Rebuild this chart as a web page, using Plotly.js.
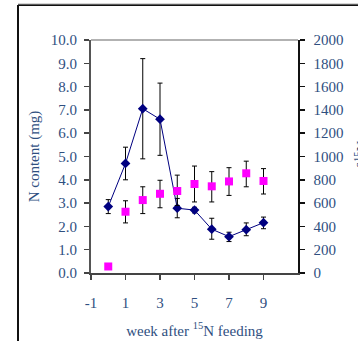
<!DOCTYPE html>
<html>
<head>
<meta charset="utf-8">
<script src="https://cdn.plot.ly/plotly-3.0.1.min.js"></script>
<style>html,body{margin:0;padding:0;background:#fff;}#chart{width:358px;height:341px;overflow:hidden;}</style>
</head>
<body>
<div id="chart"></div>
<script>
// week after 15N feeding
const weeks = [0, 1, 2, 3, 4, 5, 6, 7, 8, 9];
// N content (mg), left axis
const nContent = [2.85, 4.7, 7.05, 6.6, 2.78, 2.7, 1.88, 1.56, 1.86, 2.16];
const nUpper   = [3.15, 5.4, 9.2, 8.15, 3.2, 2.82, 2.35, 1.75, 2.15, 2.4];
const nLower   = [2.55, 4.0, 4.9, 5.05, 2.37, 2.58, 1.45, 1.35, 1.6, 1.9];
// delta 15N (per mil), right axis
const d15N      = [56, 526, 626, 680, 704, 764, 744, 786, 856, 790];
const d15NUpper = [56, 620, 740, 796, 840, 918, 870, 904, 960, 896];
const d15NLower = [56, 430, 510, 560, 580, 610, 610, 666, 740, 678];
// tick labels
const xTicks = [-1, 1, 3, 5, 7, 9];

const FONT = 'Liberation Serif, Times New Roman, serif';
const TXT = '#2f4f7f';
const FS = 15;

const sq = {
  x: weeks, y: d15N, yaxis: 'y2', type: 'scatter', mode: 'markers',
  marker: {symbol: 'square', size: 8, color: '#ff00ff'},
  error_y: {type: 'data', symmetric: false,
    array: d15N.map((v, i) => d15NUpper[i] - v),
    arrayminus: d15N.map((v, i) => v - d15NLower[i]),
    color: '#000', thickness: 1, width: 2.5},
  showlegend: false, hoverinfo: 'skip'
};
const dia = {
  x: weeks, y: nContent, type: 'scatter', mode: 'lines+markers',
  line: {color: '#000080', width: 1},
  marker: {symbol: 'diamond', size: 7.5, color: '#000080'},
  error_y: {type: 'data', symmetric: false,
    array: nContent.map((v, i) => nUpper[i] - v),
    arrayminus: nContent.map((v, i) => v - nLower[i]),
    color: '#000', thickness: 1, width: 2.5},
  showlegend: false, hoverinfo: 'skip'
};

// paper coordinate helpers for the outer frame
const L = 91, R = 298, T = 40, B = 273;
const px = v => (v - L) / (R - L);
const py = v => (B - v) / (B - T);

const layout = {
  width: 358, height: 341,
  margin: {l: L, r: 358 - R, t: T, b: 341 - B, pad: 0},
  paper_bgcolor: '#fff', plot_bgcolor: '#fff',
  font: {family: FONT, size: FS, color: TXT},
  xaxis: {
    range: [-1, 11], tickvals: xTicks, ticktext: xTicks.map(String),
    ticks: 'outside', ticklen: 5, tickwidth: 1.5, tickcolor: '#444',
    showline: true, linecolor: '#444', linewidth: 2,
    showgrid: false, zeroline: false, ticklabelstandoff: 10,
    tickfont: {family: FONT, size: FS, color: TXT},
    title: {text: 'week after <sup>15</sup>N feeding', standoff: 15,
      font: {family: FONT, size: FS, color: TXT}}
  },
  yaxis: {
    range: [0, 10], dtick: 1, tickformat: '.1f',
    ticks: 'outside', ticklen: 5, tickwidth: 1.5, tickcolor: '#444',
    showline: true, linecolor: '#555', linewidth: 2,
    showgrid: false, zeroline: false, ticklabelstandoff: 4,
    tickfont: {family: FONT, size: FS, color: TXT},
    title: {text: 'N content (mg)', standoff: 8,
      font: {family: FONT, size: FS, color: TXT}}
  },
  yaxis2: {
    overlaying: 'y', side: 'right', range: [0, 2000], dtick: 200,
    ticks: 'outside', ticklen: 5, tickwidth: 1.5, tickcolor: '#111',
    showline: true, linecolor: '#111', linewidth: 1.5,
    showgrid: false, zeroline: false, ticklabelstandoff: 6,
    tickfont: {family: FONT, size: FS, color: TXT}
  },
  annotations: [
    {text: 'δ<sup>15</sup>N', xref: 'paper', yref: 'paper',
      x: px(350), y: py(155), xanchor: 'left', yanchor: 'middle',
      textangle: -90, showarrow: false,
      font: {family: FONT, size: FS, color: TXT}}
  ],
  shapes: [
    {type: 'line', xref: 'paper', yref: 'paper', x0: 0, x1: 1, y0: 1, y1: 1,
      line: {color: '#999', width: 1.5}},
    {type: 'line', xref: 'paper', yref: 'paper', x0: px(18), x1: px(18), y0: py(5), y1: py(345),
      line: {color: '#111', width: 2}},
    {type: 'line', xref: 'paper', yref: 'paper', x0: px(18), x1: px(360), y0: py(5), y1: py(5),
      line: {color: '#111', width: 2}},
    {type: 'line', xref: 'paper', yref: 'paper', x0: px(18), x1: px(360), y0: py(4), y1: py(4),
      line: {color: '#aaa', width: 1}}
  ]
};

Plotly.newPlot('chart', [sq, dia], layout, {displayModeBar: false, staticPlot: true});
</script>
</body>
</html>
